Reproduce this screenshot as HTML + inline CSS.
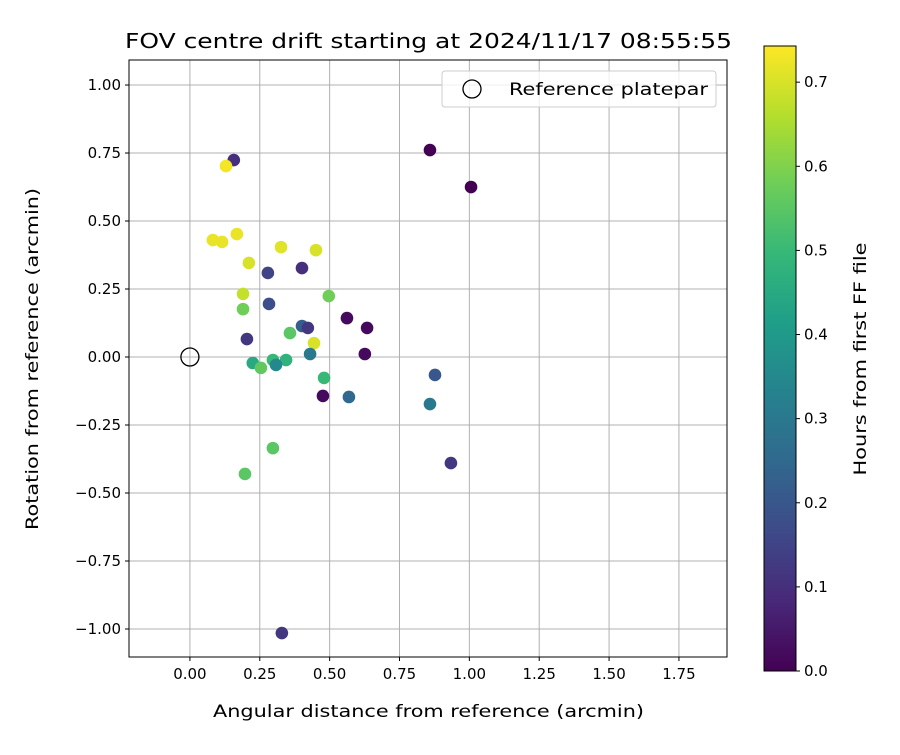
<!DOCTYPE html>
<html><head><meta charset="utf-8"><style>
body{margin:0;background:#fff;font-family:"Liberation Sans","DejaVu Sans",sans-serif;}
svg text{font-family:"DejaVu Sans","Liberation Sans",sans-serif;fill:#000}
</style></head><body>
<svg id="c" width="900" height="750" xmlns="http://www.w3.org/2000/svg"></svg>
<script>
const xVals=[0.157,0.129,0.859,1.006,0.082,0.115,0.168,0.326,0.451,0.211,0.279,0.401,0.190,0.283,0.497,0.190,0.562,0.634,0.401,0.422,0.358,0.204,0.444,0.430,0.626,0.225,0.297,0.344,0.254,0.308,0.480,0.476,0.569,0.877,0.859,0.934,0.297,0.197,0.329];
const yVals=[0.724,0.702,0.761,0.625,0.430,0.423,0.452,0.404,0.393,0.346,0.309,0.327,0.232,0.195,0.224,0.176,0.143,0.107,0.114,0.107,0.088,0.066,0.051,0.011,0.011,-0.022,-0.011,-0.011,-0.040,-0.029,-0.077,-0.143,-0.147,-0.066,-0.173,-0.390,-0.335,-0.430,-1.015];
const hours=[0.10,0.73,0.00,0.00,0.72,0.72,0.72,0.71,0.70,0.70,0.15,0.10,0.68,0.18,0.58,0.58,0.02,0.02,0.22,0.12,0.55,0.12,0.70,0.30,0.02,0.45,0.50,0.48,0.56,0.35,0.50,0.02,0.25,0.20,0.30,0.12,0.55,0.55,0.12];
const xTicks=[0,0.25,0.5,0.75,1.0,1.25,1.5,1.75];
const yTicks=[1.0,0.75,0.5,0.25,0,-0.25,-0.5,-0.75,-1.0];
const cTicks=[0,0.1,0.2,0.3,0.4,0.5,0.6,0.7];
const L=129,R=727,T=60,B=657,X0=-0.218,X1=1.922,Y0=-1.103,Y1=1.092;
const CMAX=0.743,CB={x:764,w:32,t:46,b:671};
const sx=v=>L+(v-X0)/(X1-X0)*(R-L);
const sy=v=>B-(v-Y0)/(Y1-Y0)*(B-T);
const sc=v=>CB.b-v/CMAX*(CB.b-CB.t);
const vir=[[68,1,84],[72,40,120],[62,74,137],[49,104,142],[38,130,142],[31,158,137],[53,183,121],[109,205,89],[180,222,44],[253,231,37]];
function cmap(v){let t=Math.max(0,Math.min(1,v/CMAX))*9;let i=Math.min(8,Math.floor(t)),f=t-i;const a=vir[i],b=vir[i+1];return `rgb(${a.map((x,k)=>Math.round(x+(b[k]-x)*f)).join(',')})`;}
const svg=document.getElementById('c');const NS='http://www.w3.org/2000/svg';
function el(tag,attrs,parent){const e=document.createElementNS(NS,tag);for(const k in attrs)e.setAttribute(k,attrs[k]);(parent||svg).appendChild(e);return e;}
function txt(s,attrs){const e=el('text',attrs);e.textContent=s;return e;}
xTicks.forEach(v=>{const g=el('line',{x1:sx(v),x2:sx(v),y1:T,y2:B,stroke:'#b0b0b0','stroke-width':1});


el('line',{x1:sx(v),x2:sx(v),y1:B,y2:B+4,stroke:'#000'});
const t=txt(v.toFixed(2),{x:sx(v),y:B+22,'font-size':15,'text-anchor':'middle'});

});
yTicks.forEach(v=>{const g=el('line',{x1:L,x2:R,y1:sy(v),y2:sy(v),stroke:'#b0b0b0','stroke-width':1});


el('line',{x1:L-4,x2:L,y1:sy(v),y2:sy(v),stroke:'#000'});
const t=txt(v.toFixed(2).replace('-','\u2212'),{x:L-8,y:sy(v)+5,'font-size':15,'text-anchor':'end'});

});
xVals.forEach((x,i)=>{const c=el('circle',{cx:sx(x),cy:sy(yVals[i]),r:6.3,fill:cmap(hours[i])});

});
const ref=el('circle',{cx:sx(0),cy:sy(0),r:9,fill:'none',stroke:'#000','stroke-width':1.3});


const fr=el('rect',{x:L,y:T,width:R-L,height:B-T,fill:'none',stroke:'#000','stroke-width':1});


const lg=el('rect',{x:442,y:71,width:274,height:36,rx:3,fill:'#fff','fill-opacity':0.8,stroke:'#ccc'});


el('circle',{cx:472,cy:89,r:9,fill:'none',stroke:'#000','stroke-width':1.3});
const lt=txt('Reference platepar',{x:509,y:95,'font-size':17,textLength:199,lengthAdjust:'spacingAndGlyphs'});


const ti=txt('FOV centre drift starting at 2024/11/17 08:55:55',{x:125,y:48,'font-size':20,textLength:607,lengthAdjust:'spacingAndGlyphs'});


const xt=txt('Angular distance from reference (arcmin)',{x:213,y:717,'font-size':17,textLength:431,lengthAdjust:'spacingAndGlyphs'});


const yt=txt('Rotation from reference (arcmin)',{x:0,y:0,'font-size':17,'text-anchor':'middle',textLength:342,lengthAdjust:'spacingAndGlyphs',transform:`translate(38,359) rotate(-90)`});


const defs=el('defs',{});const gr=el('linearGradient',{id:'vg',x1:0,y1:1,x2:0,y2:0},defs);
vir.forEach((c,i)=>el('stop',{offset:i/9,'stop-color':`rgb(${c.join(',')})`},gr));
const cb=el('rect',{x:CB.x,y:CB.t,width:CB.w,height:CB.b-CB.t,fill:'url(#vg)',stroke:'#000','stroke-width':1});


cTicks.forEach(v=>{el('line',{x1:CB.x+CB.w,x2:CB.x+CB.w+4,y1:sc(v),y2:sc(v),stroke:'#000'});
const t=txt(v.toFixed(1),{x:CB.x+CB.w+8,y:sc(v)+5,'font-size':15});

});
const ct=txt('Hours from first FF file',{x:0,y:0,'font-size':17,'text-anchor':'middle',textLength:233,lengthAdjust:'spacingAndGlyphs',transform:`translate(866,359) rotate(-90)`});


</script>
</body></html>
